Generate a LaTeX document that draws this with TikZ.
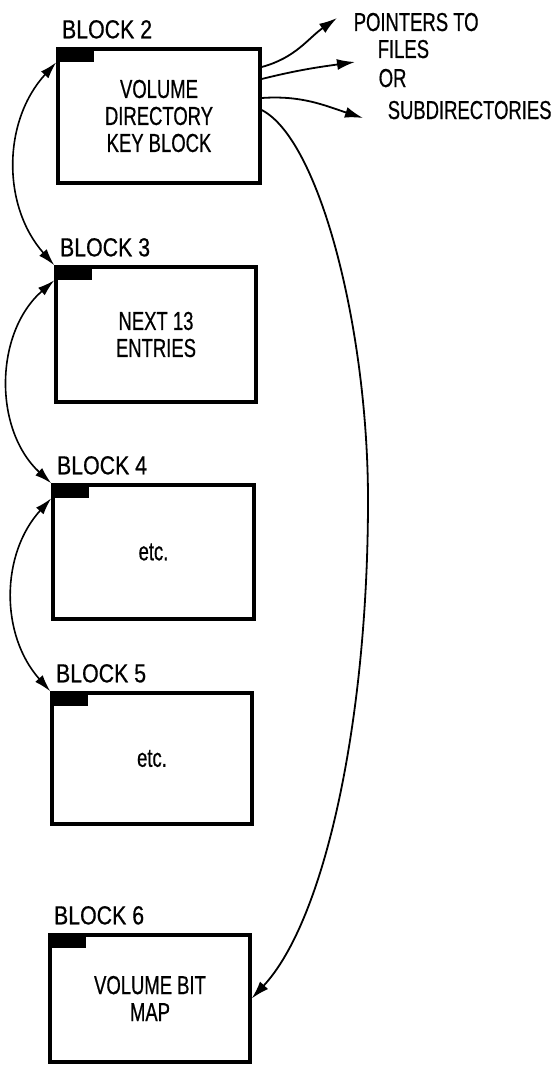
\documentclass[tikz,border=0pt]{standalone}
\usepackage{fontspec}
\setmainfont[FakeStretch=0.71,FakeBold=0.6]{Liberation Sans}
\newfontfamily\titolo[FakeStretch=0.82,FakeBold=0.6]{Liberation Sans}
\usetikzlibrary{arrows.meta}

\begin{document}
\begin{tikzpicture}[
			x=1pt, y=1pt, line width=1.5pt,
			blocco/.style={draw=black, line width=3.4pt, inner sep=0pt,
				minimum width=200pt, minimum height=133pt, align=center,
				font=\fontsize{26}{27}\selectfont},
			linguetta/.style={fill=black, inner sep=0pt, outer sep=0pt,
				minimum width=38pt, minimum height=15pt, anchor=north west},
			titoloblocco/.style={anchor=base west, inner sep=0pt,
				font=\titolo\fontsize{26}{28}\selectfont},
			etichetta/.style={anchor=base west, inner sep=0pt,
				font=\fontsize{26}{28}\selectfont},
			freccia/.style={-{Latex[length=18pt,width=11pt]}, line width=1.8pt},
			legame/.style={{Latex[length=17pt,width=10pt]}-{Latex[length=17pt,width=10pt]},
				line width=1.6pt}]
			
			\useasboundingbox (0,0) rectangle (552,-1065);
			
			%% blocchi
			\node[blocco, minimum width=202pt, minimum height=134pt] (b2) at (159,-116)
				{VOLUME\\DIRECTORY\\KEY BLOCK};
			\node[blocco, minimum height=135pt] (b3) at (156,-334.5) {NEXT 13\\ENTRIES};
			\node[blocco, minimum width=201pt, minimum height=134pt] (b4) at (153.5,-552) {etc.};
			\node[blocco, minimum height=131pt] (b5) at (152,-758.5) {etc.};
			\node[blocco, minimum height=127pt] (b6) at (150,-998.5) {VOLUME BIT\\MAP};
			
			%% linguette nere e titoli
			\foreach \b in {2,...,6}{
				\node[linguetta] (t\b) at (b\b.north west) {};
				\node[titoloblocco] (e\b) at ([xshift=5pt,yshift=9pt]b\b.north west) {BLOCK \b};
			}
			
			%% testo dei puntatori
			\node[etichetta] (p1) at (353,-31) {POINTERS TO};
			\node[etichetta] (p2) at (377,-58) {FILES};
			\node[etichetta] (p3) at (378,-87) {OR};
			\node[etichetta] (p4) at (387,-119) {SUBDIRECTORIES};
			
			%% punte libere delle frecce
			\coordinate (f1) at (337,-18);
			\coordinate (f2) at (355,-62);
			\coordinate (f3) at (363,-118);
			
			\draw[freccia] ([yshift=49pt]b2.east) to[out=15,in=215] (f1);
			\draw[freccia] ([yshift=37pt]b2.east) to[out=14,in=188] (f2);
			\draw[freccia] ([yshift=18pt]b2.east) to[out=4,in=162] (f3);
			
			%% collegamento alla bit map
			\draw[freccia] ([yshift=6pt]b2.east) .. controls (320,-140) and (368,-330) .. (368,-500)
				.. controls (368,-720) and (325,-920) .. (b6.east);
			
			%% catena dei blocchi
			\draw[legame] (t2.south west) to[bend right=42] (t3.north west);
			\draw[legame] (t3.south west) to[bend right=48] (t4.north west);
			\draw[legame] (t4.south west) to[bend right=42] (t5.north west);
			
		\end{tikzpicture}
\end{document}
